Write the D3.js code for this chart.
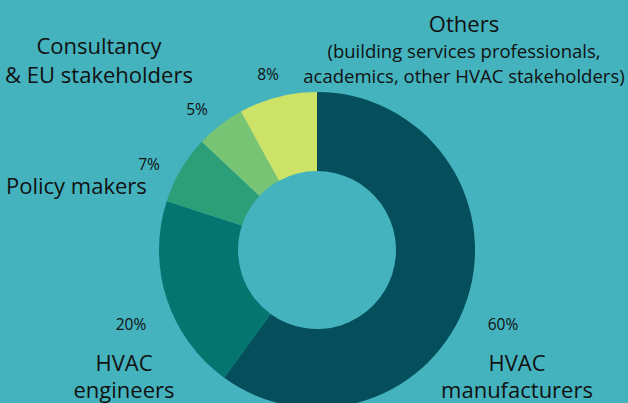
<!DOCTYPE html>
<html><head><meta charset="utf-8">
<script src="https://cdn.jsdelivr.net/npm/d3@7"></script>
<style>
html,body{margin:0;padding:0;background:#44b3be;}
svg{display:block;}
</style></head>
<body><svg id="c" width="628" height="403"></svg>
<script>
// Data
const categories = ["HVAC manufacturers", "HVAC engineers", "Policy makers", "Consultancy & EU stakeholders", "Others"];
const values = [60, 20, 7, 5, 8];
const pctLabels = ["60%", "20%", "7%", "5%", "8%"];
const colors = ["#044f5b", "#04756f", "#2c9e78", "#77c474", "#cde368"];
// Category label lines (text only)
const catLines = [
  [["HVAC", "big"], ["manufacturers", "big"]],
  [["HVAC", "big"], ["engineers", "big"]],
  [["Policy makers", "big"]],
  [["Consultancy", "big"], ["& EU stakeholders", "big"]],
  [["Others", "big"], ["(building services professionals,", "small"], ["academics, other HVAC stakeholders)", "small"]]
];

// Layout (positions, separate from data)
const cx = 317, cy = 250, R = 158, r = 79;
const pctPos = [[503, 330], [131, 330], [149, 170], [197, 115], [268, 80]];
const catPos = [
  {x: 517, y: 371, anchor: "middle", dy: [0, 27]},
  {x: 124, y: 371, anchor: "middle", dy: [0, 27]},
  {x: 6, y: 194, anchor: "start", dy: [0]},
  {x: 99, y: 54, anchor: "middle", dy: [0, 29]},
  {x: 464, y: 32, anchor: "middle", dy: [0, 26, 25]}
];

const svg = d3.select("#c");
svg.append("rect").attr("width", 628).attr("height", 403).attr("fill", "#44b3be");

const pie = d3.pie().sort(null).value(d => d);
const arc = d3.arc().innerRadius(r).outerRadius(R);
const g = svg.append("g").attr("transform", `translate(${cx},${cy})`);
g.selectAll("path").data(pie(values)).join("path")
  .attr("d", arc)
  .attr("fill", (d, i) => colors[i]);

svg.selectAll("text.pct").data(pctLabels).join("text")
  .attr("class", "pct")
  .attr("x", (d, i) => pctPos[i][0])
  .attr("y", (d, i) => pctPos[i][1])
  .attr("text-anchor", "middle")
  .attr("font-family", "Open Sans")
  .attr("font-size", 15.5)
  .style("font-stretch", "92%")
  .attr("fill", "#111")
  .text(d => d);

catLines.forEach((lines, i) => {
  const p = catPos[i];
  let y = p.y;
  lines.forEach((ln, j) => {
    y += p.dy[j];
    svg.append("text")
      .attr("x", p.x).attr("y", y)
      .attr("text-anchor", p.anchor)
      .attr("font-family", "Open Sans")
      .attr("font-size", ln[1] === "big" ? 22 : 18.5)
      .attr("fill", "#111")
      .text(ln[0]);
  });
});
</script>
</body></html>
